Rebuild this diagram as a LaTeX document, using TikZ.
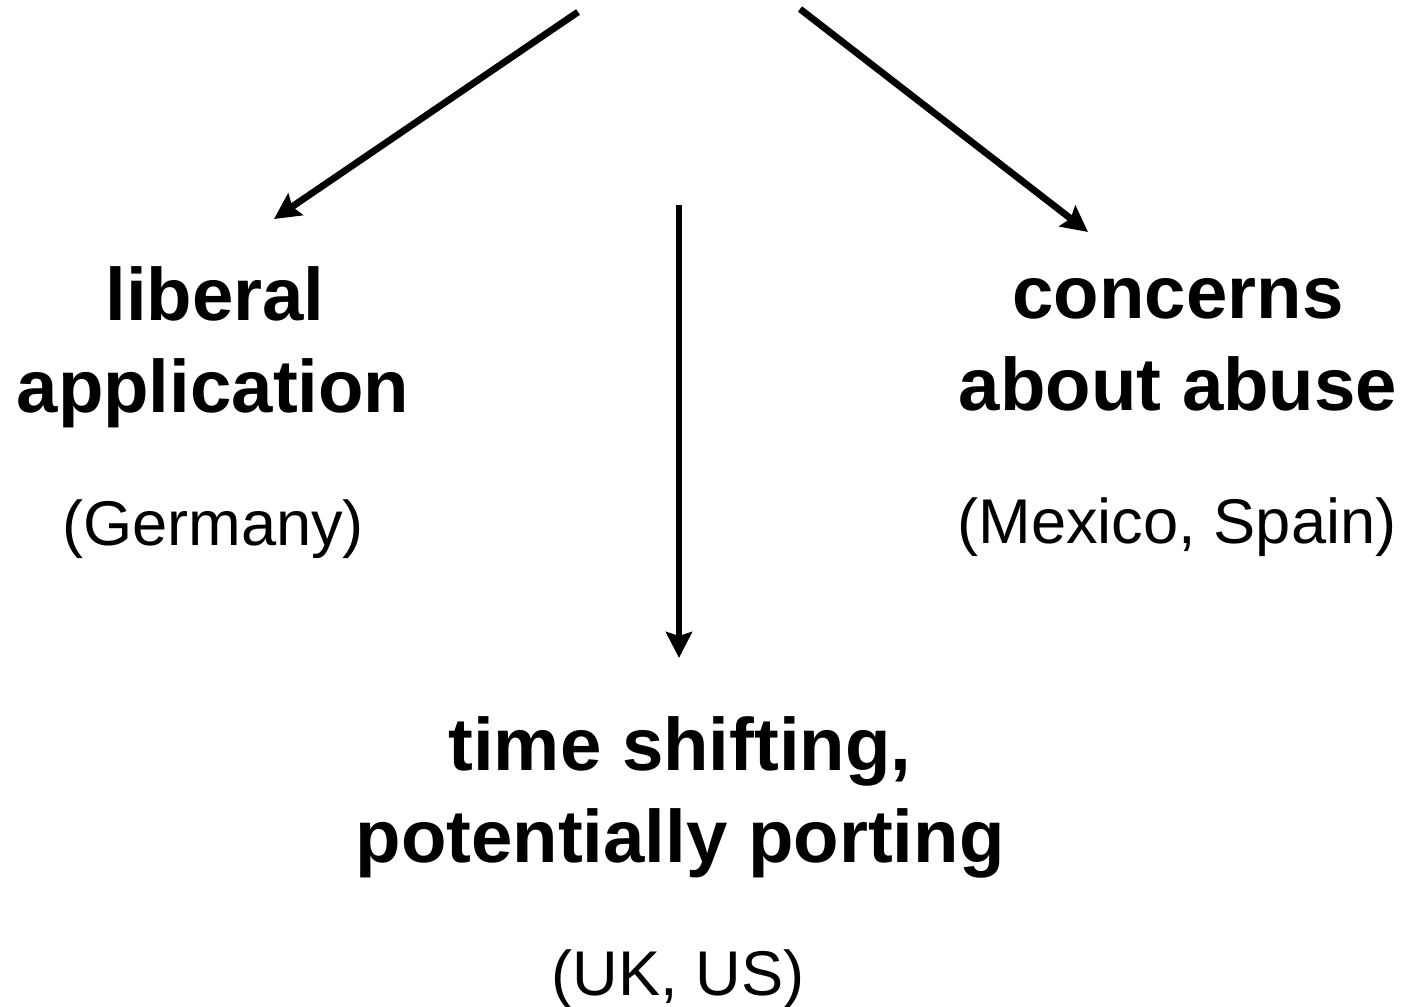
\documentclass[tikz,border=0pt]{standalone}
\usepackage{fontspec}
\setmainfont{Liberation Sans}
\usetikzlibrary{arrows.meta}
\begin{document}
\begin{tikzpicture}[x=0.5pt,y=-0.5pt,
  head/.style={font=\fontsize{37.2}{46}\selectfont\bfseries, anchor=base, inner sep=0pt},
  sub/.style={font=\fontsize{31.6}{40}\selectfont, anchor=base, inner sep=0pt},
  arr/.style={line width=3.4pt, -{Stealth[length=13pt,width=13pt,inset=2pt]}}]
\useasboundingbox (0,0) rectangle (1404,1007);
% left block
\node[head] (l1) at (215,320) {liberal};
\node[head] (l2) at (213,412) {application};
\node[sub]  (l3) at (213,545) {(Germany)};
% right block
\node[head] (r1) at (1178,318) {concerns};
\node[head] (r2) at (1178,410) {about abuse};
\node[sub]  (r3) at (1177,543) {(Mexico, Spain)};
% bottom block
\node[head] (m1) at (680,770) {time shifting,};
\node[head] (m2) at (680,862) {potentially porting};
\node[sub]  (m3) at (678,995) {(UK, US)};
% arrows
\coordinate (ls) at (578,12);
\coordinate (le) at (274,219);
\coordinate (rs) at (800,9);
\coordinate (re) at (1088,232);
\coordinate (ms) at (679,205);
\coordinate (me) at (679,658);
\draw[arr] (ls) -- (le);
\draw[arr] (rs) -- (re);
\draw[arr] (ms) -- (me);
\end{tikzpicture}
\end{document}
